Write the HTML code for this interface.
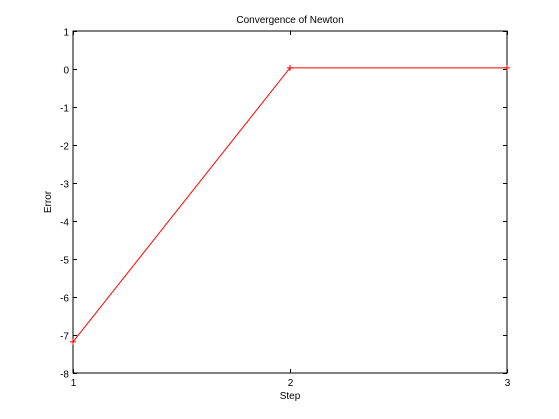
<!DOCTYPE html>
<html><head><meta charset="utf-8"><style>
body{margin:0;background:#fff;}
svg{display:block;font-family:"Liberation Sans",sans-serif;}
</style></head><body>
<svg id="chart" width="559" height="419">
<rect x="0" y="0" width="559" height="419" fill="#fff"/>
<rect x="73" y="31" width="434" height="342" fill="#fff" stroke="#000" stroke-width="1"/>
<text x="290" y="23" font-size="10" text-anchor="middle">Convergence of Newton</text>
<text x="290" y="399" font-size="10" text-anchor="middle">Step</text>
<text x="51" y="202" font-size="10" text-anchor="middle" transform="rotate(-90 51 202)">Error</text>
<g id="ticks"></g>
<g id="series"></g>
</svg>
<script>
const steps=[1,2,3];
const errors=[-7.18,0.03,0.03];
const xTicks=[1,2,3];
const yTicks=[1,0,-1,-2,-3,-4,-5,-6,-7,-8];
const X0=73,X1=507,Y0=373,Y1=31;
const xs=v=>X0+(v-1)/2*(X1-X0);
const ys=v=>Y0-(v+8)/9*(Y0-Y1);
const NS="http://www.w3.org/2000/svg";
const tg=document.getElementById('ticks');
function mk(t,a,p){const e=document.createElementNS(NS,t);for(const k in a)e.setAttribute(k,a[k]);p.appendChild(e);return e;}
xTicks.forEach(v=>{const x=xs(v)+0.5;
 const t1=mk('line',{x1:x,x2:x,y1:Y0,y2:Y0-4,stroke:'#000'},tg);
 
 
 mk('line',{x1:x,x2:x,y1:Y1,y2:Y1+4,stroke:'#000'},tg);
 const l=mk('text',{x:x,y:Y0+13,'font-size':10,'text-anchor':'middle'},tg);l.textContent=v;
 
 
});
yTicks.forEach(v=>{const y=ys(v)+0.5;
 const t1=mk('line',{x1:X0,x2:X0+4,y1:y,y2:y,stroke:'#000'},tg);
 
 
 mk('line',{x1:X1,x2:X1-4,y1:y,y2:y,stroke:'#000'},tg);
 const l=mk('text',{x:X0-4,y:y+4,'font-size':10,'text-anchor':'end'},tg);l.textContent=v;
 
 
});
const sg=document.getElementById('series');
const pts=steps.map((s,i)=>xs(s)+','+ys(errors[i])).join(' ');
const pl=mk('polyline',{points:pts,fill:'none',stroke:'#f00','stroke-width':1},sg);


steps.forEach((s,i)=>{const x=xs(s),y=ys(errors[i]);
 const g=mk('g',{stroke:'#f00'},sg);
 
 
 mk('line',{x1:x-3,x2:x+3,y1:y,y2:y},g);mk('line',{x1:x,x2:x,y1:y-3,y2:y+3},g);
});
</script>
</body></html>
